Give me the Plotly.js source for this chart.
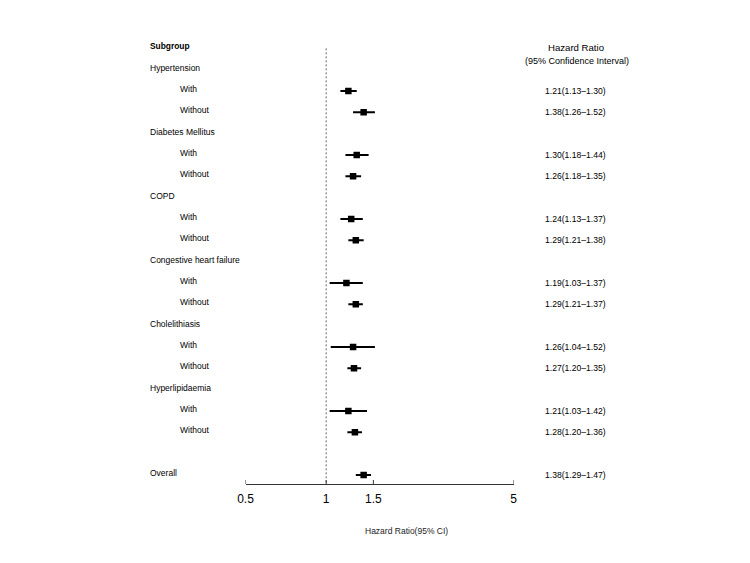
<!DOCTYPE html>
<html>
<head>
<meta charset="utf-8">
<script src="https://cdn.plot.ly/plotly-3.0.1.min.js"></script>
<style>html,body{margin:0;padding:0;background:#fff;}#chart{width:750px;height:563px;}</style>
</head>
<body>
<div id="chart"></div>
<script>
// Row labels (top to bottom, after the "Subgroup" header)
const rowLabels = ["Hypertension","With","Without","Diabetes Mellitus","With","Without","COPD","With","Without","Congestive heart failure","With","Without","Cholelithiasis","With","Without","Hyperlipidaemia","With","Without","","Overall"];
// Hazard ratios and 95% CI, in order of the data rows (With/Without/Overall)
const hr = [1.21,1.38,1.30,1.26,1.24,1.29,1.19,1.29,1.26,1.27,1.21,1.28,1.38];
const ciLow = [1.13,1.26,1.18,1.18,1.13,1.21,1.03,1.21,1.04,1.20,1.03,1.20,1.29];
const ciHigh = [1.30,1.52,1.44,1.35,1.37,1.38,1.37,1.37,1.52,1.35,1.42,1.36,1.47];
const tickVals = [0.5,1,1.5,5];
const tickText = ["0.5","1","1.5","5"];

const FONT = "Liberation Sans, Arial, Helvetica, sans-serif";
const isData = l => l === "With" || l === "Without" || l === "Overall";
const isSub = l => l === "With" || l === "Without";

// rows: header at 0, labels from 1
const dataRows = [];
rowLabels.forEach((l,i)=>{ if(isData(l)) dataRows.push(i+1); });

const ciX = [], ciY = [];
dataRows.forEach((r,k)=>{ ciX.push(ciLow[k], ciHigh[k], null); ciY.push(r, r, null); });

const yBottom = 20.44, yTop = -0.86;

// upward tick marks on the axis line
const tkX = [], tkY = [];
tickVals.forEach(v=>{ tkX.push(v, v, null); tkY.push(yBottom, yBottom-0.2, null); });

const traces = [
  {x:[1,1], y:[0, yBottom], mode:'lines', line:{color:'#666', width:1, dash:'2px,2px'}, hoverinfo:'skip'},
  {x:ciX, y:ciY, mode:'lines', line:{color:'#000', width:2}, hoverinfo:'skip', connectgaps:false},
  {x:hr, y:dataRows, mode:'markers', marker:{symbol:'square', size:6.5, color:'#000'}, hoverinfo:'skip'},
  {x:tkX, y:tkY, mode:'lines', line:{color:'#333', width:1}, hoverinfo:'skip', cliponaxis:false}
];

const ann = [];
ann.push({text:'<b>Subgroup</b>', xref:'paper', yref:'y', x:148/750, y:0, xanchor:'left', yanchor:'middle', yshift:2, showarrow:false, font:{family:FONT, size:8.4, color:'#000'}});
rowLabels.forEach((l,i)=>{
  if(!l) return;
  ann.push({text:l, xref:'paper', yref:'y', x:(isSub(l)?177.5:148)/750, y:i+1, xanchor:'left', yanchor:'middle', yshift:2, showarrow:false, font:{family:FONT, size:8.5, color:'#000'}});
});
dataRows.forEach((r,k)=>{
  const t = hr[k].toFixed(2)+'('+ciLow[k].toFixed(2)+'\u2013'+ciHigh[k].toFixed(2)+')';
  ann.push({text:t, xref:'paper', yref:'y', x:575/750, y:r, xanchor:'center', yanchor:'middle', showarrow:false, font:{family:FONT, size:8.6, color:'#000'}});
});
ann.push({text:'Hazard Ratio', xref:'paper', yref:'y', x:576/750, y:0, xanchor:'center', yanchor:'middle', yshift:1, showarrow:false, font:{family:FONT, size:9.6, color:'#000'}});
ann.push({text:'(95% Confidence Interval)', xref:'paper', yref:'y', x:577/750, y:0.6, xanchor:'center', yanchor:'middle', showarrow:false, font:{family:FONT, size:9, color:'#000'}});
ann.push({text:'Hazard Ratio(95% CI)', xref:'paper', yref:'paper', x:406.7/750, y:1-531/563, xanchor:'center', yanchor:'middle', showarrow:false, font:{family:FONT, size:8.5, color:'#222'}});

const layout = {
  width:750, height:563,
  margin:{l:0,r:0,t:0,b:0},
  paper_bgcolor:'#fff', plot_bgcolor:'#fff',
  showlegend:false, hovermode:false,
  xaxis:{type:'log', domain:[245.5/750, 513.5/750], range:[Math.log10(0.5), Math.log10(5)],
    tickvals:tickVals, ticktext:tickText, ticks:'', ticklabelstandoff:3,
    showline:true, linecolor:'#333', linewidth:1, showgrid:false, zeroline:false,
    tickfont:{family:FONT, size:12, color:'#000'}, fixedrange:true},
  yaxis:{domain:[(563-484.3)/563, (563-30)/563], range:[yBottom, yTop], visible:false, showgrid:false, zeroline:false, fixedrange:true},
  annotations:ann
};

Plotly.newPlot('chart', traces, layout, {staticPlot:true, displayModeBar:false});
</script>
</body>
</html>
